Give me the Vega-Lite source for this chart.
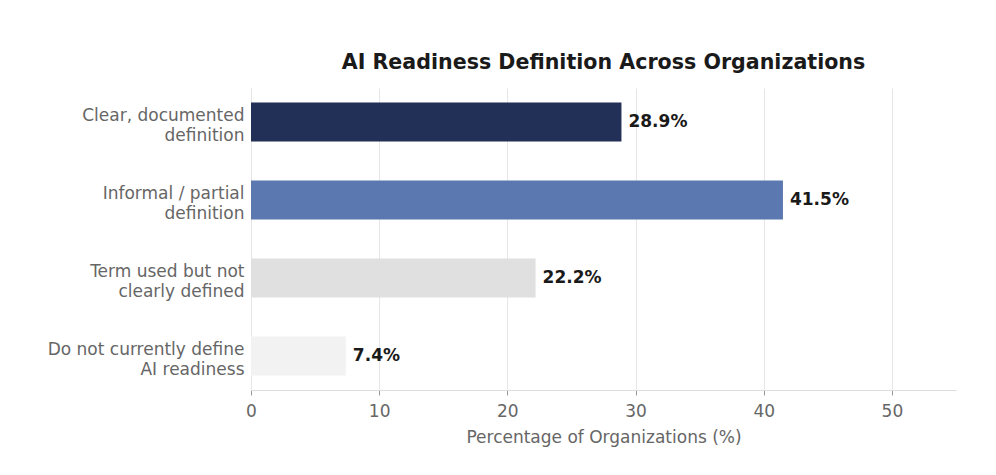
{
  "$schema": "https://vega.github.io/schema/vega-lite/v6.json",
  "autosize": {"type": "none"},
  "padding": {"left": 251, "top": 88, "right": 40, "bottom": 85},
  "width": 705,
  "height": 302,
  "background": "white",
  "title": {
    "text": "AI Readiness Definition Across Organizations",
    "font": "DejaVu Sans",
    "fontSize": 20.6,
    "fontWeight": "bold",
    "color": "#1a1a1a",
    "anchor": "middle",
    "offset": 14
  },
  "data": {
    "values": [
      {"category": "Clear, documented|definition", "pct": 28.9, "color": "#222f57"},
      {"category": "Informal / partial|definition", "pct": 41.5, "color": "#5b78b0"},
      {"category": "Term used but not|clearly defined", "pct": 22.2, "color": "#e0e0e0"},
      {"category": "Do not currently define|AI readiness", "pct": 7.4, "color": "#f2f2f2"}
    ]
  },
  "config": {
    "view": {"stroke": null},
    "font": "DejaVu Sans"
  },
  "encoding": {
    "y": {
      "field": "category",
      "type": "nominal",
      "sort": null,
      "scale": {"paddingInner": 0.5, "paddingOuter": 0.186},
      "axis": {
        "title": null,
        "labelExpr": "split(datum.label, '|')",
        "labelFont": "DejaVu Sans",
        "labelFontSize": 17,
        "labelColor": "#666666",
        "labelLineHeight": 20,
        "labelLimit": 300,
        "labelOffset": -6,
        "labelPadding": 7,
        "ticks": false,
        "domain": true,
        "domainColor": "#e6e6e6",
        "grid": false
      }
    },
    "x": {
      "field": "pct",
      "type": "quantitative",
      "scale": {"domain": [0, 55], "nice": false},
      "axis": {
        "title": "Percentage of Organizations (%)",
        "titleFont": "DejaVu Sans",
        "titleFontSize": 17,
        "titleFontWeight": "normal",
        "titleColor": "#666666",
        "titlePadding": 10,
        "values": [0, 10, 20, 30, 40, 50],
        "labelFlush": false,
        "labelFont": "DejaVu Sans",
        "labelFontSize": 17,
        "labelColor": "#666666",
        "labelPadding": 8,
        "tickColor": "#999999",
        "tickSize": 5,
        "domainColor": "#dddddd",
        "gridColor": "#e6e6e6",
        "grid": true
      }
    }
  },
  "layer": [
    {
      "mark": {"type": "bar"},
      "encoding": {
        "color": {"field": "color", "type": "nominal", "scale": null}
      }
    },
    {
      "transform": [{"calculate": "format(datum.pct, '.1f') + '%'", "as": "lbl"}],
      "mark": {
        "type": "text",
        "align": "left",
        "baseline": "middle",
        "dx": 7,
        "font": "DejaVu Sans",
        "fontSize": 17,
        "fontWeight": "bold",
        "color": "#1a1a1a"
      },
      "encoding": {
        "text": {"field": "lbl", "type": "nominal"},
        "x": {"field": "pct", "type": "quantitative"}
      }
    }
  ]
}
